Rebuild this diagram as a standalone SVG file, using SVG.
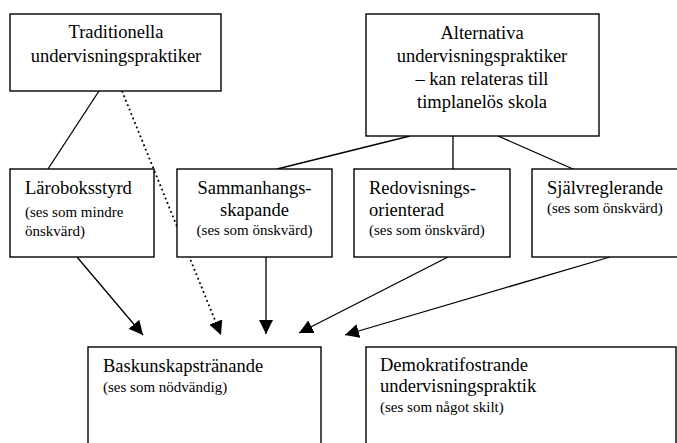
<svg xmlns="http://www.w3.org/2000/svg" width="677" height="443" viewBox="0 0 677 443">
<style>
.box{fill:#fff;stroke:#000;stroke-width:1.4}
.t{font-family:"Liberation Serif","Times New Roman",serif;font-size:18.5px;fill:#000}
.s{font-family:"Liberation Serif","Times New Roman",serif;font-size:15px;fill:#000}
.c{text-anchor:middle}
.ln{stroke:#000;stroke-width:1.3;fill:none}
.dot{stroke:#000;stroke-width:1.8;fill:none;stroke-dasharray:1.8 3}
</style>
<defs>
<marker id="ah" viewBox="0 0 14 14" refX="14" refY="7" markerWidth="14" markerHeight="14" markerUnits="userSpaceOnUse" orient="auto">
<path d="M0,0 L14,7 L0,14 Z" fill="#000"/>
</marker>
</defs>
<g id="connectors">
<line class="ln" x1="99" y1="91" x2="48" y2="169"/>
<line class="dot" x1="122" y1="91" x2="221" y2="335" marker-end="url(#ah)"/>
<line class="ln" x1="410" y1="136" x2="277" y2="169"/>
<line class="ln" x1="453" y1="136" x2="453" y2="169"/>
<line class="ln" x1="498" y1="136" x2="573" y2="169"/>
<line class="ln" x1="77" y1="257" x2="143" y2="335" marker-end="url(#ah)"/>
<line class="ln" x1="266" y1="257" x2="266" y2="334" marker-end="url(#ah)"/>
<line class="ln" x1="448" y1="257" x2="299" y2="333" marker-end="url(#ah)"/>
<line class="ln" x1="610" y1="257" x2="345" y2="335" marker-end="url(#ah)"/>
</g>
<g id="traditionella">
<rect class="box" x="10" y="14" width="211" height="77"/>
<text class="t c" x="116" y="38">Traditionella</text>
<text class="t c" x="116" y="62">undervisningspraktiker</text>
</g>
<g id="alternativa">
<rect class="box" x="366" y="14" width="233" height="122"/>
<text class="t c" x="482" y="39">Alternativa</text>
<text class="t c" x="482" y="62">undervisningspraktiker</text>
<text class="t c" x="482" y="85">– kan relateras till</text>
<text class="t c" x="482" y="108">timplanelös skola</text>
</g>
<g id="laroboksstyrd">
<rect class="box" x="10" y="169" width="144" height="88"/>
<text class="t" x="25" y="194">Läroboksstyrd</text>
<text class="s" x="25" y="217">(ses som mindre</text>
<text class="s" x="25" y="236">önskvärd)</text>
</g>
<g id="sammanhangsskapande">
<rect class="box" x="177" y="169" width="155" height="88"/>
<text class="t c" x="254.5" y="194">Sammanhangs-</text>
<text class="t c" x="254.5" y="216">skapande</text>
<text class="s c" x="254.5" y="235">(ses som önskvärd)</text>
</g>
<g id="redovisningsorienterad">
<rect class="box" x="354" y="169" width="156" height="88"/>
<text class="t" x="369" y="194">Redovisnings-</text>
<text class="t" x="369" y="216">orienterad</text>
<text class="s" x="369" y="235">(ses som önskvärd)</text>
</g>
<g id="sjalvreglerande">
<rect class="box" x="532" y="169" width="160" height="88"/>
<text class="t" x="547" y="194">Självreglerande</text>
<text class="s" x="547" y="213">(ses som önskvärd)</text>
</g>
<g id="baskunskapstranande">
<rect class="box" x="88" y="347" width="233" height="110"/>
<text class="t" x="103" y="372">Baskunskapstränande</text>
<text class="s" x="103" y="392">(ses som nödvändig)</text>
</g>
<g id="demokratifostrande">
<rect class="box" x="366" y="347" width="310" height="110"/>
<text class="t" x="380" y="371">Demokratifostrande</text>
<text class="t" x="380" y="392">undervisningspraktik</text>
<text class="s" x="380" y="412">(ses som något skilt)</text>
</g>
</svg>
